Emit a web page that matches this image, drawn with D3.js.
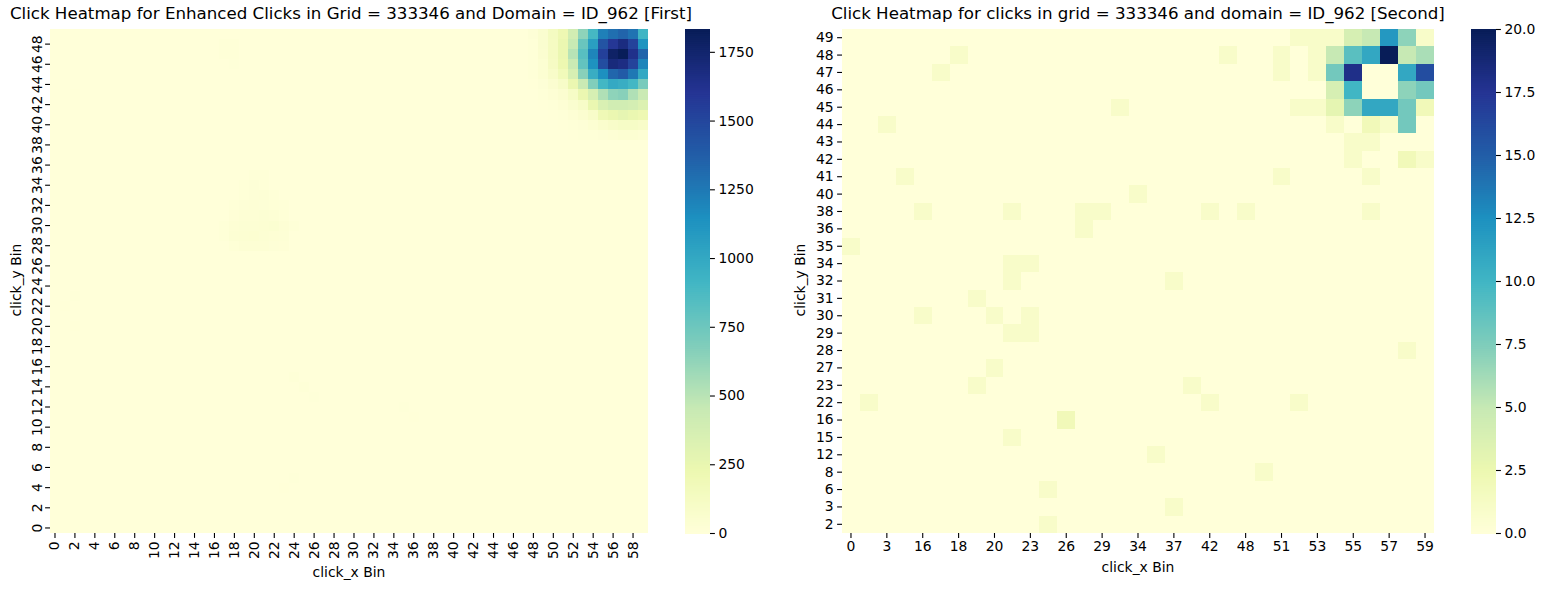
<!DOCTYPE html>
<html>
<head>
<meta charset="utf-8">
<title>Click Heatmaps</title>
<script src="https://d3js.org/d3.v7.min.js"></script>
<style>
  html, body { margin: 0; padding: 0; background: #fff; }
  svg { display: block; }
  text { font-family: "DejaVu Sans", sans-serif; fill: #000; }
</style>
</head>
<body>
<div id="chart"></div>
<script>
// --- first heatmap: 60 x 50 bins, anything not listed is 0 ---
const firstXBins = d3.range(0, 60);
const firstYBins = d3.range(0, 50);
const firstMax = 1833;
const firstTicks = [0, 250, 500, 750, 1000, 1250, 1500, 1750];

// hot corner, one list per click_y bin, the values start at click_x bin 48
const hotStartCol = 48;
const hotRow49 = [20, 60, 140, 220, 400, 640, 900, 1220, 1300, 1350, 1280, 920];
const hotRow48 = [10, 60, 130, 240, 450, 770, 1060, 1430, 1590, 1680, 1520, 1130];
const hotRow47 = [10, 50, 130, 240, 510, 830, 1200, 1540, 1780, 1830, 1640, 1350];
const hotRow46 = [10, 40, 120, 230, 440, 790, 1140, 1470, 1700, 1670, 1520, 1200];
const hotRow45 = [10, 40, 90, 180, 370, 660, 970, 1150, 1340, 1390, 1260, 1000];
const hotRow44 = [5, 20, 50, 100, 240, 440, 680, 910, 1000, 970, 910, 710];
const hotRow43 = [0, 10, 30, 50, 110, 240, 370, 530, 640, 660, 530, 440];
const hotRow42 = [0, 5, 10, 30, 60, 100, 250, 350, 400, 400, 380, 330];
const hotRow41 = [0, 0, 5, 10, 30, 50, 90, 200, 240, 270, 250, 220];
const hotRow40 = [0, 0, 0, 5, 10, 20, 40, 70, 90, 110, 110, 90];
const hotRow39 = [0, 0, 0, 0, 5, 10, 10, 20, 30, 40, 40, 30];
const hotRows = [
  [49, hotRow49], [48, hotRow48], [47, hotRow47], [46, hotRow46], [45, hotRow45], [44, hotRow44],
  [43, hotRow43], [42, hotRow42], [41, hotRow41], [40, hotRow40], [39, hotRow39]
];

// faint blob in the middle: [click_y, click_x, value]
const faintCells = [
  [35, 20, 14], [35, 21, 14], [34, 19, 14], [34, 20, 20], [34, 21, 14],
  [33, 19, 14], [33, 20, 20], [33, 21, 22], [33, 22, 10],
  [32, 18, 14], [32, 19, 20], [32, 20, 24], [32, 21, 20], [32, 22, 16], [32, 23, 10],
  [31, 18, 18], [31, 19, 26], [31, 20, 30], [31, 21, 34], [31, 22, 28], [31, 23, 16],
  [30, 17, 14], [30, 18, 30], [30, 19, 36], [30, 20, 34], [30, 21, 40], [30, 22, 46], [30, 23, 26], [30, 24, 10],
  [29, 17, 14], [29, 18, 36], [29, 19, 38], [29, 20, 44], [29, 21, 36], [29, 22, 30], [29, 23, 24],
  [28, 18, 16], [28, 19, 30], [28, 20, 30], [28, 21, 28], [28, 22, 20], [28, 23, 18],
  [48, 17, 10], [48, 18, 12], [47, 17, 12], [47, 18, 12], [46, 18, 8], [33, 0, 8], [36, 1, 8],
  [43, 2, 6], [42, 2, 6], [41, 3, 6], [40, 5, 6], [23, 2, 8], [22, 1, 6], [20, 2, 6],
  [15, 24, 10], [14, 25, 12], [13, 26, 8], [5, 24, 8], [4, 23, 6], [12, 35, 8], [11, 36, 6]
];

// --- second heatmap: only the bins that had clicks ---
const secondXBins = [0, 1, 3, 15, 16, 17, 18, 19, 20, 21, 23, 24, 26, 28, 29, 32, 34, 36, 37, 39, 42, 45, 48, 49, 51, 52, 53, 54, 55, 56, 57, 58, 59];
const secondYBins = [49, 48, 47, 46, 45, 44, 43, 42, 41, 40, 38, 36, 35, 34, 32, 31, 30, 29, 28, 27, 23, 22, 16, 15, 12, 8, 6, 3, 2];
const secondMax = 20;
const secondTicks = [0, 2.5, 5, 7.5, 10, 12.5, 15, 17.5, 20];

// [click_y, position in secondXBins, value], anything not listed is 0
const secondCells = [
  [49, 25, 1], [49, 26, 1], [49, 27, 1], [49, 28, 4], [49, 29, 5], [49, 30, 12], [49, 31, 7], [49, 32, 1],
  [48, 6, 1], [48, 21, 1], [48, 24, 1], [48, 26, 1], [48, 27, 5], [48, 28, 9], [48, 29, 11], [48, 30, 20], [48, 31, 5], [48, 32, 6],
  [47, 5, 1], [47, 24, 1], [47, 26, 1], [47, 27, 8], [47, 28, 18], [47, 31, 11], [47, 32, 16],
  [46, 27, 4], [46, 28, 10], [46, 31, 7], [46, 32, 8],
  [45, 15, 1], [45, 25, 1], [45, 26, 1], [45, 27, 3], [45, 28, 7], [45, 29, 11], [45, 30, 11], [45, 31, 8], [45, 32, 2],
  [44, 2, 1], [44, 27, 1], [44, 29, 2], [44, 30, 1], [44, 31, 8],
  [43, 28, 1], [43, 29, 1],
  [42, 28, 1], [42, 31, 2], [42, 32, 1],
  [41, 3, 1], [41, 24, 1], [41, 29, 1],
  [40, 16, 1],
  [38, 4, 1], [38, 9, 1], [38, 13, 1], [38, 14, 1], [38, 20, 1], [38, 22, 1], [38, 29, 1],
  [36, 13, 1], [35, 0, 1], [34, 9, 1], [34, 10, 1], [32, 9, 1], [32, 18, 1], [31, 7, 1],
  [30, 4, 1], [30, 8, 1], [30, 10, 1], [29, 9, 1], [29, 10, 1], [28, 31, 1], [27, 8, 1],
  [23, 7, 1], [23, 19, 1], [22, 1, 1], [22, 20, 1], [22, 25, 1], [16, 12, 2], [15, 9, 1],
  [12, 17, 1], [8, 23, 1], [6, 11, 1], [3, 18, 1], [2, 11, 1]
];

const firstTitle = "Click Heatmap for Enhanced Clicks in Grid = 333346 and Domain = ID_962 [First]";
const secondTitle = "Click Heatmap for clicks in grid = 333346 and domain = ID_962 [Second]";

// flatten into {x, y, v}
const firstData = [];
hotRows.forEach(([y, vals]) => {
  vals.forEach((v, i) => firstData.push({ x: hotStartCol + i, y: y, v: v }));
});
faintCells.forEach(([y, x, v]) => firstData.push({ x: x, y: y, v: v }));
const secondData = secondCells.map(([y, i, v]) => ({ x: secondXBins[i], y: y, v: v }));

const width = 1546, height = 589;
const plotTop = 29, plotBottom = 533;

const svg = d3.select("#chart").append("svg")
  .attr("width", width)
  .attr("height", height);

// same colour stops as matplotlib YlGnBu
function makeColor(vmax) {
  const stops = d3.schemeYlGnBu[9];
  return d3.scaleLinear()
    .domain(stops.map((d, i) => i / 8 * vmax))
    .range(stops)
    .clamp(true);
}

function drawHeatmap(opt) {
  const g = svg.append("g");
  const color = makeColor(opt.vmax);

  const x = d3.scaleBand().domain(opt.xBins).range([opt.left, opt.right]);
  const y = d3.scaleBand().domain(opt.yBins).range([plotTop, plotBottom]);

  // background is the 0 colour, cells on top
  g.append("rect")
    .attr("x", opt.left).attr("y", plotTop)
    .attr("width", opt.right - opt.left).attr("height", plotBottom - plotTop)
    .attr("fill", color(0));

  g.append("g").selectAll("rect")
    .data(opt.data)
    .join("rect")
    .attr("x", d => x(d.x))
    .attr("y", d => y(d.y))
    .attr("width", x.bandwidth())
    .attr("height", y.bandwidth())
    .attr("shape-rendering", "crispEdges")
    .attr("fill", d => color(d.v));

  // axes
  const xAxis = d3.axisBottom(x)
    .tickValues(opt.xBins.filter((d, i) => i % opt.xStep === 0))
    .tickSizeOuter(0).tickSize(4.9).tickPadding(3.5);
  const xg = g.append("g").attr("transform", `translate(0,${plotBottom})`).call(xAxis);

  const yAxis = d3.axisLeft(y)
    .tickValues(opt.yTicks)
    .tickSizeOuter(0).tickSize(4.9).tickPadding(3.5);
  const yg = g.append("g").attr("transform", `translate(${opt.left},0)`).call(yAxis);

  [xg, yg].forEach(a => {
    a.select(".domain").remove();
    a.selectAll("line").attr("stroke", "#000").attr("stroke-width", 1.1);
    a.selectAll("text").style("font-size", "13.9px");
  });

  if (opt.rotate) {
    xg.selectAll("text")
      .attr("transform", "rotate(-90)")
      .attr("text-anchor", "end")
      .attr("dy", "0.32em")
      .attr("x", -8.4)
      .attr("y", 0);
    yg.selectAll("text")
      .attr("transform", "rotate(-90)")
      .attr("text-anchor", "middle")
      .attr("dy", 0)
      .attr("x", 0)
      .attr("y", -8.4);
  }

  // titles and labels
  g.append("text")
    .attr("x", opt.titleX).attr("y", 19)
    .attr("text-anchor", "middle")
    .style("font-size", "16.67px")
    .text(opt.title);

  g.append("text")
    .attr("x", (opt.left + opt.right) / 2).attr("y", opt.xLabelY)
    .attr("text-anchor", "middle")
    .style("font-size", "13.9px")
    .text("click_x Bin");

  g.append("text")
    .attr("transform", `translate(${opt.yLabelX},${(plotTop + plotBottom) / 2 - 1}) rotate(-90)`)
    .attr("text-anchor", "middle")
    .style("font-size", "13.9px")
    .text("click_y Bin");

  // colourbar, 256 steps like a matplotlib colormap
  const cbScale = d3.scaleLinear().domain([0, opt.vmax]).range([plotBottom, plotTop]);
  const steps = d3.range(256);
  g.append("g").selectAll("rect")
    .data(steps)
    .join("rect")
    .attr("x", opt.cbLeft)
    .attr("y", d => cbScale((d + 1) / 256 * opt.vmax))
    .attr("width", 25)
    .attr("height", d => cbScale(d / 256 * opt.vmax) - cbScale((d + 1) / 256 * opt.vmax) + 1)
    .attr("fill", d => color((d + 0.5) / 256 * opt.vmax));

  const cbAxis = d3.axisRight(cbScale)
    .tickValues(opt.ticks)
    .tickFormat(opt.tickFormat)
    .tickSizeOuter(0).tickSize(4.9).tickPadding(3.5);
  const cg = g.append("g").attr("transform", `translate(${opt.cbLeft + 25},0)`).call(cbAxis);
  cg.select(".domain").remove();
  cg.selectAll("line").attr("stroke", "#000").attr("stroke-width", 1.1);
  cg.selectAll("text").style("font-size", "13.9px");
}

drawHeatmap({
  title: firstTitle,
  titleX: 351,
  data: firstData,
  xBins: firstXBins,
  xStep: 2,
  yBins: firstYBins.slice().reverse(),
  yTicks: firstYBins.filter(d => d % 2 === 0),
  vmax: firstMax,
  ticks: firstTicks,
  tickFormat: d3.format("d"),
  left: 50, right: 648,
  cbLeft: 685,
  rotate: true,
  xLabelY: 577,
  yLabelX: 21
});

drawHeatmap({
  title: secondTitle,
  titleX: 1138,
  data: secondData,
  xBins: secondXBins,
  xStep: 2,
  yBins: secondYBins,
  yTicks: secondYBins,
  vmax: secondMax,
  ticks: secondTicks,
  tickFormat: d3.format(".1f"),
  left: 842, right: 1434,
  cbLeft: 1471,
  rotate: false,
  xLabelY: 572,
  yLabelX: 805
});
</script>
</body>
</html>
